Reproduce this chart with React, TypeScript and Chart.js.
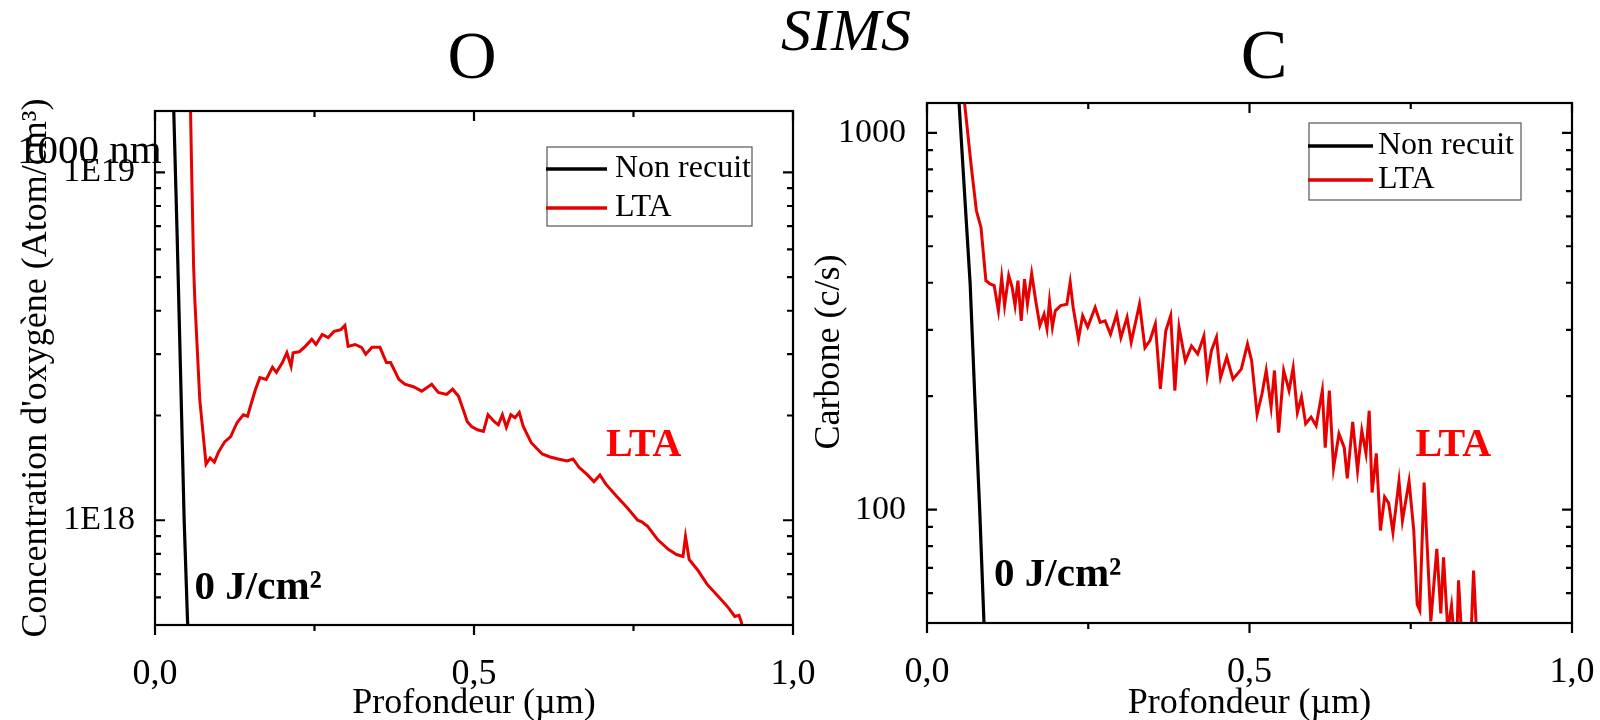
import React, { useEffect, useRef } from 'react';
import { Chart, registerables } from 'chart.js';

Chart.register(...registerables);

const SERIF = "'Liberation Serif', 'Times New Roman', Times, serif";
const RED = '#e60000';

// ---- Oxygen profile (left panel) ----
const oDepthNonRecuit = [0.027, 0.0294, 0.0346, 0.0398, 0.0457, 0.0509, 0.0525];
const oNonRecuit = [2.2e19, 1.5e19, 6.7e18, 2.77e18, 1.0e18, 5.2e17, 4.5e17];

const oDepthLTA = [
  0.0545, 0.0573, 0.0605, 0.0624, 0.0702, 0.08, 0.0864, 0.093, 0.0995, 0.1092,
  0.1186, 0.1287, 0.1385, 0.1451, 0.1513, 0.1576, 0.1644, 0.1743, 0.1841, 0.1903,
  0.1997, 0.2067, 0.2133, 0.2165, 0.2262, 0.2356, 0.2457, 0.2523, 0.2621, 0.2715,
  0.2808, 0.2913, 0.2977, 0.3027, 0.3136, 0.3237, 0.3303, 0.3401, 0.3526, 0.3627,
  0.3693, 0.3822, 0.3916, 0.405, 0.4181, 0.4337, 0.444, 0.4571, 0.4665, 0.4758,
  0.483, 0.4895, 0.4961, 0.5055, 0.5148, 0.522, 0.532, 0.5382, 0.5445, 0.5507,
  0.5577, 0.5643, 0.571, 0.5772, 0.5897, 0.6069, 0.6193, 0.6318, 0.6459, 0.6552,
  0.6646, 0.678, 0.688, 0.6973, 0.7067, 0.7239, 0.7395, 0.7566, 0.7629, 0.7722,
  0.7878, 0.805, 0.8175, 0.8275, 0.8315, 0.8373, 0.8502, 0.8658, 0.883, 0.8986,
  0.9087, 0.9153, 0.919, 0.922,
];
const oLTA = [
  2.0e19, 1.04e19, 5.38e18, 4.31e18, 2.22e18, 1.45e18, 1.51e18, 1.47e18, 1.57e18, 1.68e18,
  1.74e18, 1.91e18, 2.01e18, 1.99e18, 2.18e18, 2.38e18, 2.57e18, 2.54e18, 2.75e18, 2.66e18,
  2.84e18, 3.03e18, 2.77e18, 3.03e18, 3.05e18, 3.16e18, 3.31e18, 3.2e18, 3.42e18, 3.35e18,
  3.49e18, 3.53e18, 3.63e18, 3.16e18, 3.2e18, 3.14e18, 3.0e18, 3.14e18, 3.14e18, 2.84e18,
  2.84e18, 2.54e18, 2.46e18, 2.42e18, 2.35e18, 2.46e18, 2.33e18, 2.3e18, 2.38e18, 2.27e18,
  2.08e18, 1.92e18, 1.86e18, 1.82e18, 1.8e18, 2.01e18, 1.92e18, 1.88e18, 2.01e18, 1.85e18,
  2.01e18, 1.97e18, 2.04e18, 1.86e18, 1.67e18, 1.55e18, 1.52e18, 1.5e18, 1.48e18, 1.5e18,
  1.42e18, 1.35e18, 1.29e18, 1.35e18, 1.27e18, 1.17e18, 1.09e18, 1.0e18, 9.9e17, 9.6e17,
  8.8e17, 8.24e17, 7.97e17, 7.87e17, 8.98e17, 7.71e17, 7.21e17, 6.53e17, 6.04e17, 5.61e17,
  5.29e17, 5.33e17, 5.1e17, 4.8e17,
];

// ---- Carbon profile (right panel) ----
const cDepthNonRecuit = [0.046, 0.0495, 0.058, 0.0669, 0.0741, 0.0817, 0.0882, 0.09];
const cNonRecuit = [1520, 1216, 701, 398, 199, 99.8, 50.8, 45];

const cDepthLTA = [
  0.055, 0.0579, 0.0688, 0.0766, 0.0837, 0.0913, 0.0978, 0.1042, 0.1107, 0.1158,
  0.1203, 0.1267, 0.132, 0.1365, 0.141, 0.1461, 0.1512, 0.1557, 0.1623, 0.1686,
  0.175, 0.1815, 0.186, 0.1899, 0.1944, 0.1989, 0.2073, 0.2169, 0.222, 0.2266,
  0.2349, 0.2413, 0.2491, 0.2607, 0.2685, 0.2761, 0.2845, 0.2941, 0.3006, 0.3102,
  0.3166, 0.3295, 0.3379, 0.3457, 0.354, 0.3618, 0.3702, 0.3778, 0.3843, 0.3907,
  0.4005, 0.4101, 0.4197, 0.4293, 0.4345, 0.441, 0.4488, 0.4551, 0.4648, 0.4744,
  0.4873, 0.4969, 0.5034, 0.5118, 0.5194, 0.5259, 0.5335, 0.5387, 0.5452, 0.553,
  0.5613, 0.5677, 0.5742, 0.5806, 0.5871, 0.5955, 0.6033, 0.6129, 0.6174, 0.6238,
  0.6303, 0.6387, 0.6469, 0.6516, 0.66, 0.6675, 0.6741, 0.6806, 0.6856, 0.6901,
  0.6966, 0.703, 0.7095, 0.7158, 0.7224, 0.7318, 0.7371, 0.7474, 0.7547, 0.76,
  0.764, 0.7707, 0.7811, 0.7904, 0.7966, 0.8008, 0.8075, 0.8132, 0.8168, 0.8214,
  0.8241, 0.8292, 0.837, 0.8432, 0.8474, 0.8525,
];
const cLTA = [
  1350, 1216, 809, 621, 561, 405, 397, 393, 337, 413,
  348, 418, 389, 348, 405, 317, 409, 351, 423, 358,
  308, 330, 302, 357, 305, 337, 348, 351, 401, 344,
  284, 327, 305, 344, 314, 317, 292, 330, 286, 324,
  278, 351, 269, 281, 311, 209, 298, 327, 207, 305,
  248, 272, 259, 289, 227, 264, 287, 224, 254, 222,
  236, 275, 248, 179, 203, 234, 187, 234, 160, 234,
  207, 238, 181, 199, 169, 176, 167, 207, 146, 207,
  129, 159, 146, 121, 171, 127, 162, 141, 183, 111,
  141, 88, 108, 104, 87, 119, 93.5, 119, 88, 56,
  54, 118, 50.5, 78.7, 53, 74.7, 47.7, 55.6, 47, 45,
  64.9, 45, 42, 45, 68.9, 45,
];

// ---- Axes ----
const seriesLabels = ['Non recuit', 'LTA'];
const depthTicks = [0, 0.5, 1.0];
const depthTickLabels = ['0,0', '0,5', '1,0'];
const depthMinorTicks = [0.25, 0.75];

const oMajorTicks = [1e18, 1e19];
const oMajorLabels = ['1E18', '1E19'];
const oMinorTicks = [6e17, 7e17, 8e17, 9e17, 2e18, 3e18, 4e18, 5e18, 6e18, 7e18, 8e18, 9e18];

const cMajorTicks = [100, 1000];
const cMajorLabels = ['100', '1000'];
const cMinorTicks = [60, 70, 80, 90, 200, 300, 400, 500, 600, 700, 800, 900];

const toPoints = (xs: number[], ys: number[]) => xs.map((x, i) => ({ x, y: ys[i] }));

// Origin-style frame: box around the plot, inward ticks on left/right/top, outward on bottom.
const framePlugin = {
  id: 'frame',
  afterDatasetsDraw(chart: any, _a: any, opts: any) {
    const { ctx, chartArea } = chart;
    const { left, right, top, bottom } = chartArea;
    const xs = chart.scales.x;
    const ys = chart.scales.y;
    ctx.save();
    ctx.strokeStyle = '#000';
    ctx.lineWidth = 2.2;
    ctx.beginPath();
    const seg = (x1: number, y1: number, x2: number, y2: number) => {
      ctx.moveTo(x1, y1);
      ctx.lineTo(x2, y2);
    };
    const xMajor: number[] = opts.xMajor || [];
    const xMinor: number[] = opts.xMinor || [];
    const yMajor: number[] = opts.yMajor || [];
    const yMinor: number[] = opts.yMinor || [];
    xMajor.forEach((v) => {
      const p = xs.getPixelForValue(v);
      seg(p, bottom, p, bottom + 10);
      seg(p, top, p, top + 10);
    });
    xMinor.forEach((v) => {
      const p = xs.getPixelForValue(v);
      seg(p, bottom, p, bottom + 6);
      seg(p, top, p, top + 6);
    });
    yMajor.forEach((v) => {
      const p = ys.getPixelForValue(v);
      seg(left, p, left + 10, p);
      seg(right, p, right - 10, p);
    });
    yMinor.forEach((v) => {
      const p = ys.getPixelForValue(v);
      seg(left, p, left + 6, p);
      seg(right, p, right - 6, p);
    });
    ctx.stroke();
    ctx.strokeRect(left, top, right - left, bottom - top);
    ctx.restore();
  },
};

// Boxed legend placed inside the plot area.
const boxLegendPlugin = {
  id: 'boxLegend',
  afterDraw(chart: any, _a: any, opts: any) {
    const { ctx } = chart;
    const b = opts;
    ctx.save();
    ctx.fillStyle = '#fff';
    ctx.fillRect(b.x, b.y, b.w, b.h);
    ctx.strokeStyle = '#555';
    ctx.lineWidth = 1.2;
    ctx.strokeRect(b.x, b.y, b.w, b.h);
    ctx.font = `${b.fontSize}px ${SERIF}`;
    ctx.textBaseline = 'middle';
    ctx.textAlign = 'left';
    chart.data.datasets.forEach((ds: any, i: number) => {
      const ry = b.rows[i];
      ctx.strokeStyle = ds.borderColor;
      ctx.lineWidth = 3.5;
      ctx.beginPath();
      ctx.moveTo(b.x - 1, ry);
      ctx.lineTo(b.x + b.lineLen, ry);
      ctx.stroke();
      ctx.fillStyle = '#000';
      ctx.fillText(ds.label, b.textX, ry);
    });
    ctx.restore();
  },
};

// Free text: headings, rotated axis captions and in-plot annotations.
const textPlugin = {
  id: 'freeText',
  afterDraw(chart: any, _a: any, opts: any) {
    const { ctx } = chart;
    const items = opts.items || [];
    for (let i = 0; i < items.length; i++) {
      const t = items[i];
      ctx.save();
      ctx.font = `${t.italic ? 'italic ' : ''}${t.bold ? 'bold ' : ''}${t.size}px ${SERIF}`;
      ctx.fillStyle = t.color || '#000';
      ctx.textAlign = t.align || 'left';
      ctx.textBaseline = t.baseline || 'alphabetic';
      const x = t.dataX !== undefined ? chart.scales.x.getPixelForValue(t.dataX) : t.x;
      const y = t.dataY !== undefined ? chart.scales.y.getPixelForValue(t.dataY) : t.y;
      ctx.translate(x, y);
      if (t.vertical) ctx.rotate(-Math.PI / 2);
      ctx.fillText(t.text, 0, 0);
      ctx.restore();
    }
  },
};

type Panel = {
  nonRecuit: { x: number; y: number }[];
  lta: { x: number; y: number }[];
  yMin: number;
  yMax: number;
  yMajor: number[];
  yMajorLabels: string[];
  yMinor: number[];
  yTitle: string;
  showYTitle: boolean;
  yTitlePad: number;
  padding: { left: number; top: number; right: number; bottom: number };
  yAxisWidth: number;
  xAxisHeight: number;
  yTickPad: number;
  legend: any;
  texts: any[];
};

function buildConfig(p: Panel): any {
  return {
    type: 'line',
    data: {
      datasets: [
        {
          label: seriesLabels[0],
          data: p.nonRecuit,
          borderColor: '#000',
          borderWidth: 3.2,
          pointRadius: 0,
          tension: 0,
          fill: false,
        },
        {
          label: seriesLabels[1],
          data: p.lta,
          borderColor: RED,
          borderWidth: 3,
          pointRadius: 0,
          tension: 0,
          fill: false,
        },
      ],
    },
    options: {
      responsive: false,
      animation: false,
      events: [],
      layout: { padding: p.padding },
      scales: {
        x: {
          type: 'linear',
          min: 0,
          max: 1,
          grid: { display: false },
          border: { display: false },
          afterBuildTicks: (s: any) => {
            s.ticks = depthTicks.map((value) => ({ value }));
          },
          ticks: {
            autoSkip: false,
            maxRotation: 0,
            minRotation: 0,
            padding: 24,
            color: '#000',
            font: { family: SERIF, size: 36, lineHeight: 1 },
            callback: (v: any) => depthTickLabels[depthTicks.indexOf(Number(v))] ?? '',
          },
          title: {
            display: true,
            text: 'Profondeur (µm)',
            color: '#000',
            font: { family: SERIF, size: 36, lineHeight: 1 },
            padding: { top: 0, bottom: -2 },
          },
          afterFit: (s: any) => {
            s.height = p.xAxisHeight;
            s.paddingLeft = 0;
            s.paddingRight = 0;
          },
        },
        y: {
          type: 'logarithmic',
          position: 'left',
          min: p.yMin,
          max: p.yMax,
          grid: { display: false },
          border: { display: false },
          afterBuildTicks: (s: any) => {
            s.ticks = p.yMajor.map((value) => ({ value }));
          },
          ticks: {
            autoSkip: false,
            padding: p.yTickPad,
            color: '#000',
            font: { family: SERIF, size: 34, lineHeight: 1 },
            callback: (v: any) => {
              const i = p.yMajor.findIndex((m) => Math.abs(m - Number(v)) / m < 1e-6);
              return i >= 0 ? p.yMajorLabels[i] : '';
            },
          },
          title: {
            display: p.showYTitle,
            text: p.yTitle,
            color: '#000',
            font: { family: SERIF, size: 36, lineHeight: 1 },
            padding: { top: p.yTitlePad, bottom: 0 },
          },
          afterFit: (s: any) => {
            s.width = p.yAxisWidth;
            s.paddingTop = 0;
            s.paddingBottom = 0;
          },
        },
      },
      plugins: {
        legend: { display: false },
        tooltip: { enabled: false },
        frame: {
          xMajor: depthTicks,
          xMinor: depthMinorTicks,
          yMajor: p.yMajor,
          yMinor: p.yMinor,
        },
        boxLegend: p.legend,
        freeText: { items: p.texts },
      },
    },
    plugins: [framePlugin, boxLegendPlugin, textPlugin],
  };
}

const oxygenPanel: Panel = {
  nonRecuit: toPoints(oDepthNonRecuit, oNonRecuit),
  lta: toPoints(oDepthLTA, oLTA),
  yMin: 5e17,
  yMax: 1.5e19,
  yMajor: oMajorTicks,
  yMajorLabels: oMajorLabels,
  yMinor: oMinorTicks,
  yTitle: "Concentration d'oxygène (Atom/cm³)",
  showYTitle: true,
  yTitlePad: 19,
  padding: { left: 0, top: 111, right: 807, bottom: 0 },
  yAxisWidth: 155,
  xAxisHeight: 95,
  yTickPad: 12,
  legend: { x: 547, y: 147, w: 205, h: 79, rows: [169, 208], lineLen: 60, textX: 615, fontSize: 32 },
  texts: [
    { text: 'SIMS', x: 846, y: 50, size: 60, italic: true, align: 'center' },
    { text: 'O', x: 472, y: 78, size: 68, align: 'center' },
    { text: '1000 nm', x: 17, y: 163, size: 41 },
    { text: 'LTA', dataX: 0.766, dataY: 1.64e18, size: 40, bold: true, color: '#ff0000', align: 'center', baseline: 'middle' },
    { text: '0 J/cm²', dataX: 0.062, dataY: 5.95e17, size: 41, bold: true },
  ],
};

const carbonPanel: Panel = {
  nonRecuit: toPoints(cDepthNonRecuit, cNonRecuit),
  lta: toPoints(cDepthLTA, cLTA),
  yMin: 50,
  yMax: 1200,
  yMajor: cMajorTicks,
  yMajorLabels: cMajorLabels,
  yMinor: cMinorTicks,
  yTitle: 'Carbone (c/s)',
  showYTitle: false,
  yTitlePad: 11,
  padding: { left: 800, top: 103, right: 28, bottom: 0 },
  yAxisWidth: 127,
  xAxisHeight: 97,
  yTickPad: 13,
  legend: { x: 1309, y: 123, w: 212, h: 77, rows: [146, 180], lineLen: 64, textX: 1378, fontSize: 32 },
  texts: [
    { text: 'Carbone (c/s)', x: 830, y: 352, size: 36, align: 'center', baseline: 'middle', vertical: true },
    { text: 'C', x: 1264, y: 78, size: 70, align: 'center' },
    { text: 'LTA', dataX: 0.816, dataY: 148, size: 40, bold: true, color: '#ff0000', align: 'center', baseline: 'middle' },
    { text: '0 J/cm²', dataX: 0.104, dataY: 62.7, size: 41, bold: true },
  ],
};

export default function App() {
  const oRef = useRef<HTMLCanvasElement>(null);
  const cRef = useRef<HTMLCanvasElement>(null);

  useEffect(() => {
    const charts: Chart[] = [];
    if (oRef.current) charts.push(new Chart(oRef.current, buildConfig(oxygenPanel)));
    if (cRef.current) charts.push(new Chart(cRef.current, buildConfig(carbonPanel)));
    return () => charts.forEach((c) => c.destroy());
  }, []);

  const layer: React.CSSProperties = { position: 'absolute', left: 0, top: 0, width: 1600, height: 720 };
  return (
    <div style={{ position: 'fixed', left: 0, top: 0, width: 1600, height: 720, background: '#fff', overflow: 'hidden' }}>
      <canvas ref={oRef} width={1600} height={720} style={layer} />
      <canvas ref={cRef} width={1600} height={720} style={layer} />
    </div>
  );
}
